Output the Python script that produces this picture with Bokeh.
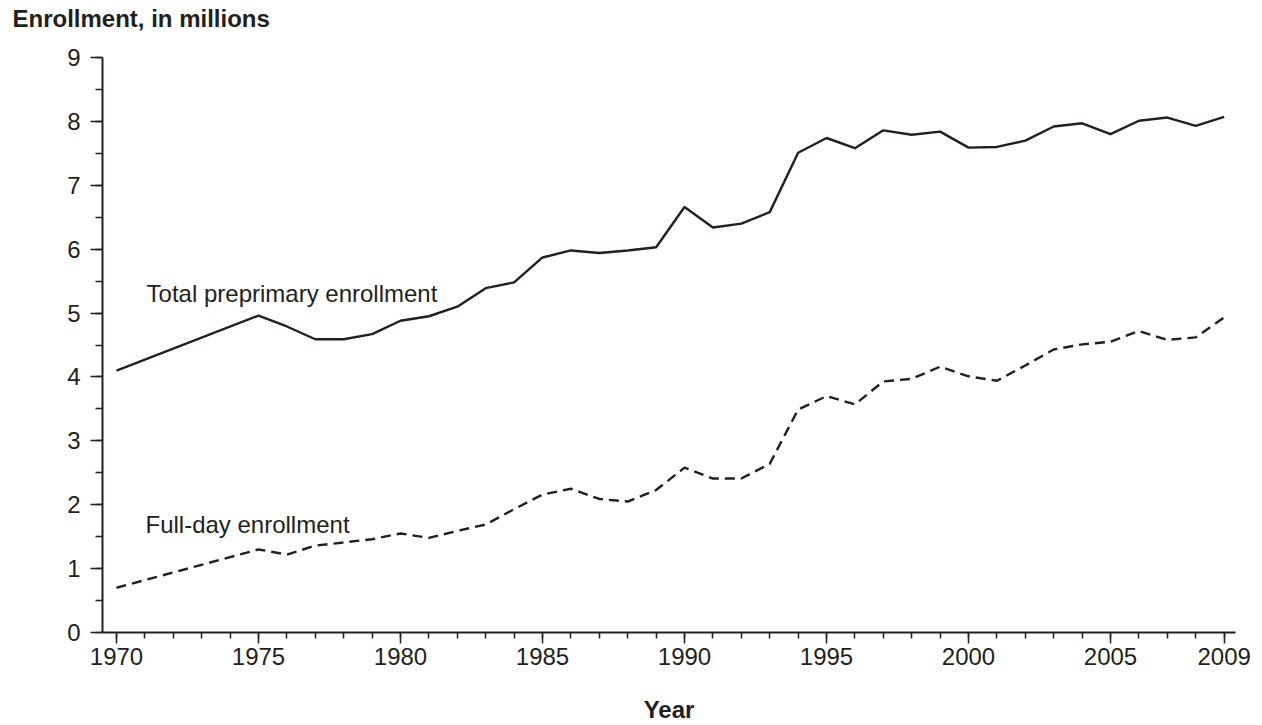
from bokeh.plotting import figure
from bokeh.models import FixedTicker, SingleIntervalTicker, Label, Range1d, Title
from bokeh.embed import file_html
from bokeh.resources import INLINE

years = [1970, 1975, 1976, 1977, 1978, 1979, 1980, 1981, 1982, 1983, 1984,
         1985, 1986, 1987, 1988, 1989, 1990, 1991, 1992, 1993, 1994, 1995,
         1996, 1997, 1998, 1999, 2000, 2001, 2002, 2003, 2004, 2005, 2006,
         2007, 2008, 2009]
total_enrollment = [4.10, 4.96, 4.79, 4.59, 4.59, 4.67, 4.88, 4.95, 5.10, 5.39,
                    5.48, 5.87, 5.98, 5.94, 5.98, 6.03, 6.66, 6.34, 6.40, 6.58,
                    7.51, 7.74, 7.58, 7.86, 7.79, 7.84, 7.59, 7.60, 7.70, 7.92,
                    7.97, 7.80, 8.01, 8.06, 7.93, 8.07]
fullday_enrollment = [0.70, 1.30, 1.22, 1.36, 1.41, 1.46, 1.55, 1.48, 1.59, 1.69,
                      1.93, 2.16, 2.25, 2.09, 2.05, 2.23, 2.58, 2.41, 2.41, 2.64,
                      3.49, 3.70, 3.57, 3.93, 3.97, 4.16, 4.01, 3.94, 4.18, 4.43,
                      4.51, 4.55, 4.72, 4.58, 4.62, 4.93]
x_tick_labels = [1970, 1975, 1980, 1985, 1990, 1995, 2000, 2005, 2009]
series_labels = ["Total preprimary enrollment", "Full-day enrollment"]
y_title = "Enrollment, in millions"
x_title = "Year"

FONT = "Liberation Sans"
INK = "#231f20"
FS = "24px"

p = figure(width=1262, height=725, output_backend="svg", toolbar_location=None,
           x_range=Range1d(1969.507, 2009.40), y_range=Range1d(0, 9),
           min_border_left=102, min_border_right=27, min_border_top=57,
           min_border_bottom=92)
p.title.visible = False
p.outline_line_color = None
p.grid.visible = False
p.background_fill_color = "white"
p.border_fill_color = "white"

p.line(years, total_enrollment, line_color=INK, line_width=2.4)
p.line(years, fullday_enrollment, line_color=INK, line_width=2.4, line_dash="10 6")

# axes
xa = p.xaxis[0]
xa.ticker = FixedTicker(ticks=x_tick_labels, minor_ticks=list(range(1970, 2010)))
xa.axis_line_color = INK
xa.axis_line_width = 2
xa.major_tick_line_color = INK
xa.major_tick_line_width = 1.5
xa.minor_tick_line_color = INK
xa.minor_tick_line_width = 1.5
xa.major_tick_in = 0
xa.major_tick_out = 11
xa.minor_tick_in = 0
xa.minor_tick_out = 6
xa.major_label_standoff = 4
xa.major_label_text_font = FONT
xa.major_label_text_font_size = FS
xa.major_label_text_color = INK
xa.axis_label = x_title
xa.axis_label_text_font = FONT
xa.axis_label_text_font_size = FS
xa.axis_label_text_font_style = "bold"
xa.axis_label_text_color = INK
xa.axis_label_standoff = 28

ya = p.yaxis[0]
ya.ticker = SingleIntervalTicker(interval=1, num_minor_ticks=2)
ya.axis_line_color = INK
ya.axis_line_width = 2
ya.major_tick_line_color = INK
ya.major_tick_line_width = 1.5
ya.minor_tick_line_color = INK
ya.minor_tick_line_width = 1.5
ya.major_tick_in = 0
ya.major_tick_out = 12
ya.minor_tick_in = 0
ya.minor_tick_out = 7
ya.major_label_standoff = 10
ya.major_label_text_font = FONT
ya.major_label_text_font_size = FS
ya.major_label_text_color = INK

# spacer between frame and caption, then the caption (horizontal y-axis title)
spacer = Title(text=" ", text_font=FONT, text_font_size="10px", standoff=7)
caption = Title(text=y_title, text_font=FONT, text_font_size=FS,
                text_font_style="bold", text_color=INK, align="left",
                vertical_align="top", offset=-90, standoff=8)
p.add_layout(spacer, "above")
p.add_layout(caption, "above")

# series labels
p.add_layout(Label(x=1971.06, y=5.30, text=series_labels[0], text_font=FONT,
                   text_font_size=FS, text_color=INK, text_baseline="alphabetic"))
p.add_layout(Label(x=1971.02, y=1.69, text=series_labels[1], text_font=FONT,
                   text_font_size=FS, text_color=INK, text_baseline="alphabetic"))

open("out.html", "w").write(file_html(p, INLINE))
